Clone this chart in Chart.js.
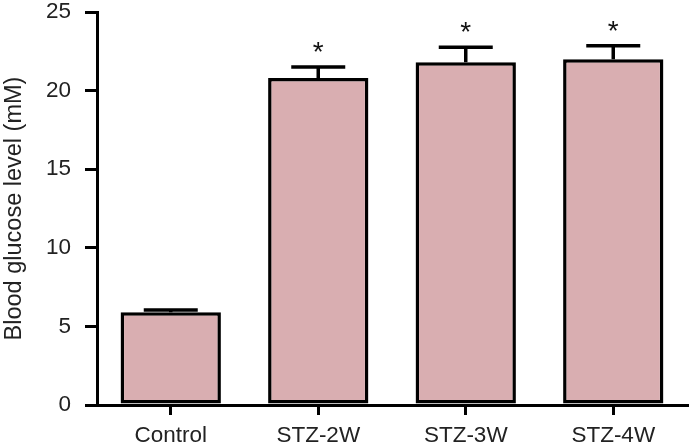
<!DOCTYPE html>
<html>
<head>
<meta charset="utf-8">
<script src="https://cdn.jsdelivr.net/npm/chart.js@4.4.1/dist/chart.umd.min.js"></script>
<style>
  html,body{margin:0;padding:0;background:#fff;}
  #wrap{width:695px;height:446px;}
</style>
</head>
<body>
<div id="wrap"><canvas id="c" width="695" height="446"></canvas></div>
<script>
const groups=['Control','STZ-2W','STZ-3W','STZ-4W'];
const glucose=[5.9,20.8,21.8,22.0];
const sem=[0.15,0.7,0.95,0.85];
const marks=['','*','*','*'];
const yTicks=[0,5,10,15,20,25];

const barColor='rgb(217,174,177)';
const font='"Liberation Sans", Arial, sans-serif';

// top-only error bars + significance marks
const errorBars={
  id:'errorBars',
  afterDatasetsDraw(chart){
    const ctx=chart.ctx, y=chart.scales.y;
    const meta=chart.getDatasetMeta(0);
    ctx.save();
    ctx.strokeStyle='#000'; ctx.lineWidth=3.5; ctx.lineCap='butt';
    meta.data.forEach((bar,i)=>{
      const top=y.getPixelForValue(glucose[i]+sem[i]);
      const half=27;
      ctx.beginPath();
      ctx.moveTo(bar.x,bar.y); ctx.lineTo(bar.x,top);
      ctx.moveTo(bar.x-half,top); ctx.lineTo(bar.x+half,top);
      ctx.stroke();
      if(marks[i]){
        ctx.fillStyle='#111';
        ctx.font='28px '+font;
        ctx.textAlign='center'; ctx.textBaseline='middle';
        ctx.fillText(marks[i],bar.x,top-14);
      }
    });
    ctx.restore();
  }
};

new Chart(document.getElementById('c'),{
  type:'bar',
  data:{labels:groups,datasets:[{
    data:glucose,backgroundColor:barColor,borderColor:'#000',borderWidth:3.5,
    borderSkipped:false,barPercentage:0.68,categoryPercentage:1
  }]},
  options:{
    responsive:false,animation:false,
    layout:{padding:{top:12,right:8,left:0,bottom:0}},
    plugins:{legend:{display:false},tooltip:{enabled:false}},
    scales:{
      x:{
        offset:true,
        grid:{display:true,drawOnChartArea:false,offset:false,tickLength:10,color:'#000',lineWidth:3},
        border:{display:true,color:'#000',width:3},
        ticks:{color:'#222',font:{family:font,size:22.5},padding:7,maxRotation:0},
        afterFit(s){s.height=41;s.paddingLeft=0;s.paddingRight=0;}
      },
      y:{
        min:0,max:25,
        afterBuildTicks(s){s.ticks=yTicks.map(v=>({value:v}));},
        grid:{display:true,drawOnChartArea:false,tickLength:12,color:'#000',lineWidth:3},
        border:{display:true,color:'#000',width:3},
        ticks:{color:'#222',font:{family:font,size:22.5},padding:14},
        title:{display:true,text:'Blood glucose level (mM)',color:'#222',font:{family:font,size:23.5},padding:{top:0,bottom:0}},
        afterFit(s){s.width=97;s.paddingTop=0;s.paddingBottom=0;}
      }
    }
  },
  plugins:[errorBars]
});
</script>
</body>
</html>
